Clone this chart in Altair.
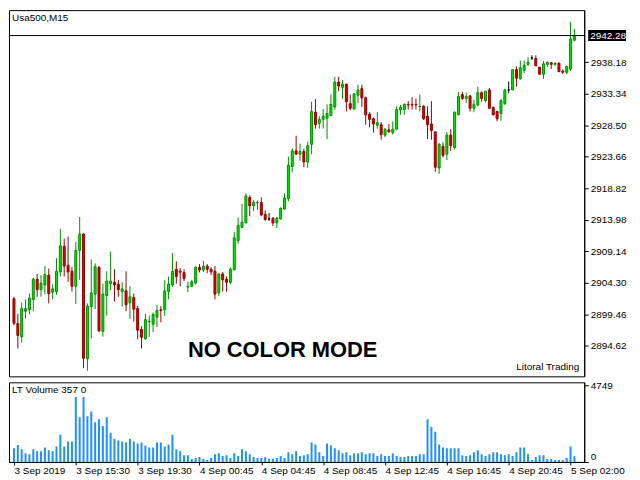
import altair as alt
import pandas as pd

# ---- data (M15 bars, Usa500) ----
opens = [2901.86, 2898.04, 2896.02, 2899.94, 2900.16, 2901.75, 2904.87, 2903.26, 2903.97, 2905.48,
         2902.87, 2902.96, 2905.98, 2909.90, 2906.99, 2906.08, 2903.77, 2909.29, 2911.81, 2892.62,
         2900.65, 2902.57, 2906.68, 2896.84, 2902.36, 2904.17, 2904.38, 2904.08, 2902.96, 2903.07,
         2901.26, 2902.06, 2900.35, 2897.14, 2895.72, 2898.32, 2897.94, 2899.04, 2900.16, 2900.16,
         2902.96, 2903.97, 2906.38, 2906.08, 2905.89, 2903.67, 2903.77, 2904.27, 2906.68, 2906.28,
         2906.88, 2906.38, 2906.08, 2902.76, 2905.67, 2904.87, 2904.38, 2906.28, 2910.80, 2912.82,
         2913.51, 2917.43, 2916.14, 2916.59, 2916.64, 2914.83, 2914.12, 2914.22, 2913.51, 2914.12,
         2915.63, 2917.24, 2922.17, 2924.58, 2924.07, 2924.48, 2922.86, 2925.58, 2930.51, 2928.80,
         2929.41, 2929.60, 2930.01, 2931.31, 2935.14, 2934.32, 2934.83, 2931.82, 2931.00, 2933.12,
         2934.13, 2932.72, 2930.21, 2929.50, 2928.50, 2928.59, 2926.99, 2927.79, 2927.39, 2927.90,
         2930.88, 2930.91, 2931.71, 2931.71, 2931.71, 2931.37, 2931.41, 2929.90, 2928.70, 2927.49,
         2921.96, 2925.28, 2924.07, 2926.99, 2925.08, 2930.10, 2933.22, 2932.62, 2933.03, 2931.11,
         2931.61, 2933.52, 2932.32, 2933.93, 2931.22, 2930.61, 2930.31, 2931.82, 2933.93, 2933.93,
         2937.04, 2935.63, 2936.95, 2937.85, 2938.85, 2938.75, 2937.44, 2936.34, 2937.85, 2938.12,
         2937.85, 2938.05, 2936.84, 2936.64, 2937.14, 2941.56]
highs = [2902.16, 2899.55, 2901.26, 2901.75, 2902.66, 2905.07, 2905.67, 2905.48, 2906.88, 2906.49,
         2904.08, 2908.09, 2912.61, 2911.10, 2911.40, 2906.79, 2910.60, 2914.42, 2911.90, 2901.15,
         2907.89, 2907.29, 2906.88, 2904.17, 2906.08, 2909.10, 2906.38, 2904.77, 2904.38, 2906.08,
         2903.77, 2902.66, 2900.76, 2897.64, 2899.55, 2899.25, 2899.75, 2900.88, 2900.73, 2904.72,
         2905.28, 2908.90, 2907.59, 2906.58, 2906.38, 2904.47, 2904.77, 2906.88, 2907.18, 2907.69,
         2907.18, 2906.68, 2906.88, 2905.78, 2905.98, 2905.28, 2906.68, 2912.11, 2914.33, 2916.44,
         2918.04, 2917.74, 2917.04, 2916.94, 2917.43, 2915.43, 2915.02, 2914.42, 2914.42, 2915.93,
         2918.04, 2923.68, 2924.97, 2926.89, 2925.68, 2924.88, 2925.98, 2932.12, 2932.51, 2929.90,
         2931.00, 2931.71, 2933.22, 2935.94, 2935.94, 2935.44, 2934.83, 2933.22, 2933.42, 2934.73,
         2934.73, 2932.92, 2930.51, 2929.71, 2930.51, 2929.00, 2928.09, 2928.70, 2929.11, 2931.41,
         2931.64, 2931.86, 2932.21, 2932.81, 2932.62, 2933.22, 2931.61, 2931.41, 2932.21, 2927.49,
         2925.79, 2925.88, 2927.49, 2927.90, 2930.61, 2933.63, 2933.63, 2933.52, 2933.03, 2932.42,
         2934.43, 2933.72, 2933.82, 2934.23, 2931.41, 2930.70, 2932.51, 2934.13, 2935.23, 2937.14,
         2937.55, 2938.45, 2938.45, 2938.95, 2939.25, 2939.25, 2937.44, 2938.35, 2938.35, 2938.15,
         2938.15, 2938.15, 2937.07, 2937.55, 2944.38, 2943.32]
lows = [2897.79, 2894.22, 2895.12, 2898.84, 2899.45, 2899.94, 2902.16, 2902.16, 2902.57, 2901.15,
        2901.75, 2902.46, 2905.28, 2905.28, 2904.47, 2902.96, 2901.06, 2904.77, 2891.20, 2890.81,
        2895.72, 2900.25, 2896.73, 2896.02, 2899.25, 2903.17, 2901.45, 2902.16, 2900.65, 2899.94,
        2898.74, 2898.35, 2895.63, 2894.22, 2895.53, 2896.02, 2896.73, 2897.53, 2898.24, 2899.22,
        2901.75, 2903.67, 2904.17, 2903.77, 2904.57, 2902.87, 2903.67, 2904.08, 2905.89, 2905.98,
        2905.78, 2905.48, 2901.75, 2902.27, 2902.96, 2902.96, 2904.08, 2906.28, 2910.30, 2912.72,
        2913.51, 2914.52, 2915.32, 2915.53, 2914.52, 2913.82, 2913.82, 2913.02, 2912.72, 2914.03,
        2915.53, 2916.83, 2921.26, 2923.95, 2923.07, 2922.06, 2921.96, 2924.07, 2927.99, 2927.99,
        2927.99, 2926.39, 2929.90, 2930.91, 2933.72, 2932.51, 2930.61, 2930.81, 2931.00, 2931.91,
        2931.31, 2928.59, 2928.20, 2927.39, 2927.99, 2926.29, 2926.69, 2927.39, 2927.08, 2927.90,
        2930.13, 2930.13, 2930.91, 2930.91, 2930.91, 2930.61, 2929.30, 2926.39, 2926.29, 2921.36,
        2921.05, 2923.57, 2923.16, 2924.58, 2924.78, 2930.10, 2932.42, 2931.91, 2930.61, 2930.51,
        2931.52, 2932.12, 2932.02, 2931.00, 2930.05, 2929.11, 2929.20, 2931.61, 2933.42, 2933.93,
        2934.43, 2935.53, 2936.54, 2937.64, 2938.54, 2937.64, 2936.24, 2935.63, 2937.44, 2937.14,
        2937.64, 2936.69, 2936.39, 2936.34, 2936.84, 2941.41]
closes = [2898.09, 2896.23, 2900.35, 2900.35, 2901.97, 2904.87, 2903.26, 2904.27, 2905.58, 2902.66,
          2903.37, 2906.08, 2910.00, 2906.88, 2905.98, 2903.77, 2909.29, 2911.81, 2892.71, 2900.76,
          2902.76, 2906.79, 2896.93, 2902.57, 2904.57, 2904.57, 2903.97, 2903.26, 2903.37, 2900.95,
          2902.16, 2900.25, 2897.03, 2895.93, 2898.65, 2898.39, 2899.45, 2900.05, 2900.05, 2903.07,
          2904.12, 2906.08, 2905.28, 2905.93, 2904.98, 2903.77, 2904.47, 2906.68, 2906.28, 2906.88,
          2906.38, 2905.98, 2902.57, 2905.67, 2904.77, 2904.38, 2906.38, 2911.21, 2913.12, 2913.62,
          2917.65, 2916.14, 2916.64, 2916.64, 2914.72, 2914.03, 2914.12, 2913.51, 2914.22, 2915.73,
          2917.34, 2922.37, 2924.58, 2924.07, 2924.48, 2922.86, 2925.38, 2930.61, 2928.59, 2929.41,
          2929.90, 2930.31, 2931.71, 2935.14, 2934.53, 2934.83, 2932.12, 2931.11, 2933.33, 2933.93,
          2932.72, 2930.10, 2929.41, 2928.70, 2928.89, 2927.08, 2927.90, 2927.49, 2927.90, 2930.91,
          2931.26, 2931.71, 2931.64, 2931.64, 2931.64, 2931.41, 2929.50, 2928.59, 2927.69, 2922.06,
          2925.58, 2923.87, 2926.99, 2925.38, 2930.51, 2932.92, 2932.62, 2932.92, 2931.11, 2931.71,
          2933.52, 2932.62, 2933.72, 2931.11, 2930.10, 2929.50, 2932.32, 2933.93, 2933.93, 2937.04,
          2935.74, 2937.34, 2937.74, 2938.15, 2938.85, 2937.64, 2936.34, 2937.94, 2938.15, 2937.85,
          2938.05, 2936.73, 2936.64, 2937.55, 2941.77, 2942.28]
volumes = [842, 1042, 782, 541, 481, 782, 661, 661, 902, 721,
           661, 962, 1683, 962, 1262, 1262, 4028, 2765, 4028, 2826,
           3126, 2465, 2645, 2224, 2765, 1804, 1443, 1323, 1262, 1202,
           1443, 1262, 1142, 1202, 1022, 902, 902, 1202, 1202, 962,
           1082, 1683, 782, 661, 421, 421, 180, 240, 300, 180,
           120, 240, 481, 541, 361, 421, 240, 541, 361, 782,
           661, 481, 300, 240, 240, 300, 180, 180, 240, 361,
           240, 601, 481, 661, 361, 421, 481, 1202, 1082, 601,
           361, 1142, 1022, 842, 721, 541, 601, 421, 541, 541,
           601, 481, 541, 541, 361, 481, 361, 361, 541, 361,
           300, 300, 361, 361, 361, 481, 481, 2645, 2164, 1864,
           1082, 902, 842, 842, 842, 842, 421, 361, 421, 601,
           721, 481, 361, 481, 601, 601, 481, 421, 481, 361,
           601, 902, 902, 481, 120, 300, 421, 421, 180, 180,
           120, 120, 120, 240, 962, 357]

time_tick_index = [0, 16, 32, 48, 64, 80, 96, 112, 128, 144]
time_tick_labels = ["3 Sep 2019", "3 Sep 15:30", "3 Sep 19:30", "4 Sep 00:45", "4 Sep 04:45",
                    "4 Sep 08:45", "4 Sep 12:45", "4 Sep 16:45", "4 Sep 20:45", "5 Sep 02:00"]
price_ticks = [2894.62, 2899.46, 2904.30, 2909.14, 2913.98, 2918.82, 2923.66, 2928.50, 2933.34, 2938.18]
volume_ticks = [0, 4749]
last_price = 2942.28
symbol_label = "Usa500,M15"
watermark = "NO COLOR MODE"
brand = "Litoral Trading"

# ---- layout ----
W = 578
H_MAIN = 368
H_VOL = 80
FONT = "Liberation Sans"

n = len(opens)
dirs = []
for o, c in zip(opens, closes):
    dirs.append("up" if c > o else ("down" if c < o else "doji"))

df = pd.DataFrame({
    "i": list(range(n)), "open": opens, "high": highs, "low": lows,
    "close": closes, "vol": volumes, "dir": dirs,
})

x_scale = alt.Scale(domain=[0, 146.25], nice=False, zero=False)
y_scale = alt.Scale(domain=[2889.94, 2946.19], nice=False, zero=False)
stroke_scale = alt.Scale(domain=["up", "down", "doji"], range=["#009000", "#990000", "#000000"])
fill_scale = alt.Scale(domain=["up", "down", "doji"], range=["#00E600", "#DD0000", "#000000"])

y_axis = alt.Axis(orient="right", values=price_ticks, format=".2f", title=None, grid=False,
                  tickSize=4, labelPadding=2, labelFontSize=10, labelFont=FONT,
                  labelColor="black", domainColor="black", tickColor="black")

base = alt.Chart(df)
wicks = base.mark_rule(strokeWidth=1, clip=True).encode(
    x=alt.X("i:Q", scale=x_scale, axis=None),
    y=alt.Y("low:Q", scale=y_scale, axis=y_axis),
    y2="high:Q",
    stroke=alt.Stroke("dir:N", scale=stroke_scale, legend=None),
)
bodies = base.mark_bar(size=2, strokeWidth=1, clip=True).encode(
    x=alt.X("i:Q", scale=x_scale, axis=None),
    y=alt.Y("open:Q", scale=y_scale),
    y2="close:Q",
    fill=alt.Fill("dir:N", scale=fill_scale, legend=None),
    stroke=alt.Stroke("dir:N", scale=stroke_scale, legend=None),
)

pdf = pd.DataFrame({"p": [last_price]})
price_line = alt.Chart(pdf).mark_rule(color="black", strokeWidth=1).encode(y=alt.Y("p:Q", scale=y_scale))
price_box = alt.Chart(pdf).mark_rule(color="black", strokeWidth=11, strokeCap="butt").encode(
    x=alt.value(W + 4), x2=alt.value(W + 42), y=alt.Y("p:Q", scale=y_scale))
price_text = alt.Chart(pdf).mark_text(align="left", baseline="middle", color="white",
                                      font=FONT, fontSize=10).encode(
    x=alt.value(W + 6), y=alt.Y("p:Q", scale=y_scale), text=alt.Text("p:Q", format=".2f"))

sym_text = alt.Chart(pd.DataFrame({"t": [symbol_label]})).mark_text(
    align="left", baseline="middle", font=FONT, fontSize=10, color="black").encode(
    x=alt.value(3), y=alt.value(8), text="t:N")
wm_text = alt.Chart(pd.DataFrame({"t": [watermark]})).mark_text(
    align="center", baseline="middle", font=FONT, fontSize=22, fontWeight="bold", color="black").encode(
    x=alt.value(275), y=alt.value(342), text="t:N")
brand_text = alt.Chart(pd.DataFrame({"t": [brand]})).mark_text(
    align="right", baseline="middle", font=FONT, fontSize=10, color="black").encode(
    x=alt.value(W - 5), y=alt.value(H_MAIN - 9), text="t:N")

top = alt.layer(wicks, bodies, price_line, price_box, price_text, sym_text, wm_text, brand_text).properties(
    width=W, height=H_MAIN)

label_expr = "[" + ",".join("'%s'" % s for s in time_tick_labels) + "][indexof([" + \
    ",".join(str(v) for v in time_tick_index) + "], datum.value)]"

x_axis = alt.Axis(orient="bottom", values=time_tick_index, labelExpr=label_expr, title=None,
                  grid=False, labelAlign="left", labelFlush=False, labelOverlap=False,
                  labelBound=False, tickSize=3, labelPadding=1, labelFontSize=10,
                  labelFont=FONT, labelColor="black", domainColor="black", tickColor="black")
v_axis = alt.Axis(orient="right", values=volume_ticks, title=None, grid=False, format="d",
                  tickSize=4, labelPadding=2, labelFontSize=10, labelFont=FONT,
                  labelFlush=True, labelOverlap=False,
                  labelColor="black", domainColor="black", tickColor="black")

vol_bars = base.mark_bar(size=2, color="#1E90FF", clip=True).encode(
    x=alt.X("i:Q", scale=x_scale, axis=x_axis),
    y=alt.Y("vol:Q", scale=alt.Scale(domain=[0, 4929], nice=False), axis=v_axis),
)
vol_text = alt.Chart(pd.DataFrame({"t": ["LT Volume %d 0" % volumes[-1]]})).mark_text(
    align="left", baseline="middle", font=FONT, fontSize=10, color="black").encode(
    x=alt.value(3), y=alt.value(8), text="t:N")

bottom = alt.layer(vol_bars, vol_text).properties(width=W, height=H_VOL)

chart = alt.vconcat(top, bottom, spacing=2).properties(
    padding=0, background="white"
).configure_view(stroke="black", strokeWidth=1)

chart.save("out.html", embed_options={"renderer": "svg", "actions": False})
